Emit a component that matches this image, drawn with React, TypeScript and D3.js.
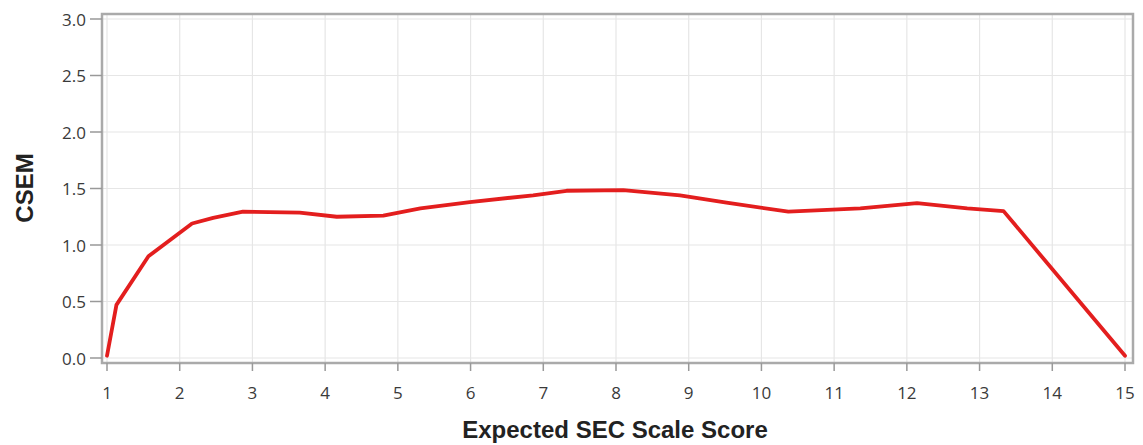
import React from "react";
import * as d3 from "d3";

const scoreX: number[] = [1.0, 1.13, 1.57, 2.17, 2.46, 2.87, 3.65, 4.16, 4.8, 5.31, 5.99, 6.86, 7.32, 8.1, 8.88, 9.52, 10.37, 11.36, 12.14, 12.83, 13.33, 15.0];
const csem: number[] = [0.02, 0.47, 0.9, 1.19, 1.24, 1.295, 1.286, 1.25, 1.26, 1.325, 1.38, 1.44, 1.48, 1.485, 1.44, 1.375, 1.295, 1.325, 1.37, 1.325, 1.3, 0.02];
const xTicks: number[] = [1, 2, 3, 4, 5, 6, 7, 8, 9, 10, 11, 12, 13, 14, 15];
const yTicks: number[] = [0, 0.5, 1, 1.5, 2, 2.5, 3];
const xTitle = "Expected SEC Scale Score";
const yTitle = "CSEM";

export default function App() {
  const W = 1143, H = 445;
  const left = 102, right = 1133, top = 14, bottom = 363;
  const x = d3.scaleLinear().domain([1, 15]).range([107, 1125]);
  const y = d3.scaleLinear().domain([0, 3]).range([358, 19]);
  const line = d3.line<number>().x((_, i) => x(scoreX[i])).y((d) => y(d));
  const path = line(csem) || "";
  const tickFont = "'Open Sans', 'DejaVu Sans', sans-serif";
  const titleFont = "'Liberation Sans', Arial, sans-serif";
  return (
    <div style={{ position: "absolute", left: 0, top: 0 }}>
      <svg width={W} height={H} style={{ display: "block", background: "#fff" }}>
        {xTicks.map((t) => (
          <line key={"gx" + t} x1={x(t)} x2={x(t)} y1={top} y2={bottom} stroke="#e6e6e6" strokeWidth={1.2} />
        ))}
        {yTicks.map((t) => (
          <line key={"gy" + t} x1={left} x2={right} y1={y(t)} y2={y(t)} stroke="#e6e6e6" strokeWidth={1.2} />
        ))}
        <rect x={left} y={top} width={right - left} height={bottom - top} fill="none" stroke="#aaaaaa" strokeWidth={2.5} />
        {xTicks.map((t) => (
          <g key={"tx" + t}>
            <line x1={x(t)} x2={x(t)} y1={bottom} y2={bottom + 8} stroke="#999" strokeWidth={1.5} />
            <text x={x(t)} y={392} textAnchor="middle" dominantBaseline="central" fontFamily={tickFont} fontSize={17} fill="#3a3a3a">
              {t}
            </text>
          </g>
        ))}
        {yTicks.map((t) => (
          <g key={"ty" + t}>
            <line x1={left - 12} x2={left} y1={y(t)} y2={y(t)} stroke="#999" strokeWidth={1.5} />
            <text x={86} y={y(t)} textAnchor="end" dominantBaseline="central" fontFamily={tickFont} fontSize={17} fill="#3a3a3a">
              {t.toFixed(1)}
            </text>
          </g>
        ))}
        <path d={path} fill="none" stroke="#e31e1e" strokeWidth={3.8} strokeLinejoin="round" strokeLinecap="round" />
        <text x={615} y={429} textAnchor="middle" dominantBaseline="central" fontFamily={titleFont} fontWeight="bold" fontSize={24} fill="#222">
          {xTitle}
        </text>
        <text transform={`translate(24,188) rotate(-90)`} textAnchor="middle" dominantBaseline="central" fontFamily={titleFont} fontWeight="bold" fontSize={24} fill="#222">
          {yTitle}
        </text>
      </svg>
    </div>
  );
}
